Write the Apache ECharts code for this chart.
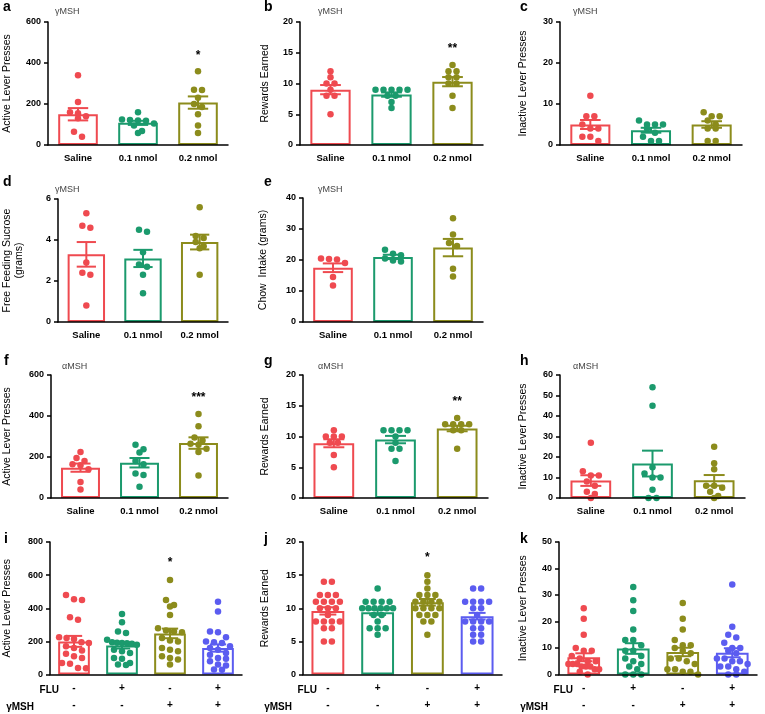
<!DOCTYPE html>
<html><head><meta charset="utf-8">
<script src="https://cdn.jsdelivr.net/npm/echarts@6/dist/echarts.min.js"></script>
<style>html,body{margin:0;padding:0;background:#fff}#c{width:765px;height:714px}</style>
</head><body><div id="c"></div>
<script>
// ---------------- DATA ----------------
const doseCats = ['Saline', '0.1 nmol', '0.2 nmol'];
const fluSigns = ['-', '+', '-', '+'];
const ymshSigns = ['-', '-', '+', '+'];

// a: γMSH active lever presses
const aDots = [[340,210,160,155,140,130,65,40],[160,125,122,120,118,105,95,68,58],[360,270,268,230,200,185,150,95,58]];
const aMean = [150,108,207];
const aSem = [30,10,30];
const aStars = ['','','*'];
// b: γMSH rewards earned
const bDots = [[12,11,10,10,9,8,8,5],[9,9,9,9,9,8,8,7,6],[13,12,12,11,11,10,10,8,6]];
const bMean = [9.0,8.2,10.3];
const bSem = [0.75,0.35,0.75];
const bStars = ['','','**'];
// c: γMSH inactive lever presses
const cDots = [[12,7,7,5,4,4,2,2,1],[6,5,5,5,4,3,2,1,1],[8,7,7,6,5,4,4,1,1]];
const cMean = [5.0,3.6,5.0];
const cSem = [1.1,0.6,0.8];
const cStars = ['','',''];
// d: γMSH free feeding sucrose
const dDots = [[5.3,4.7,4.6,2.9,2.4,2.3,0.8],[4.5,4.4,3.4,2.8,2.7,2.3,1.4],[5.6,4.2,4.1,3.9,3.7,3.6,2.3]];
const dMean = [3.3,3.1,3.9];
const dSem = [0.6,0.42,0.36];
const dStars = ['','',''];
// e: γMSH chow intake
const eDots = [[20.5,20.3,20.2,19.0,14.5,11.8],[23.3,22.0,21.5,20.5,19.8,19.5],[33.5,28.2,25.5,24.5,17.2,14.7]];
const eMean = [17.5,21.0,24.0];
const eSem = [1.4,0.7,2.8];
const eStars = ['','',''];
// f: αMSH active lever presses
const fDots = [[225,195,180,165,160,140,78,42],[260,238,222,180,165,120,112,55],[410,350,295,280,265,260,240,225,110]];
const fMean = [148,172,268];
const fSem = [20,23,28];
const fStars = ['','','***'];
// g: αMSH rewards earned
const gDots = [[11,10,10,10,9,9,7,5],[11,11,11,11,10,9,8,8,6],[13,12,12,12,12,11,11,8]];
const gMean = [8.9,9.5,11.3];
const gSem = [0.65,0.6,0.45];
const gStars = ['','','**'];
// h: αMSH inactive lever presses
const hDots = [[27,13,11,11,8,6,3,2,0],[54,45,15,12,10,10,4,0,0],[25,17,14,6,6,5,3,1,0]];
const hMean = [8.5,16.8,8.6];
const hSem = [2.6,6.3,2.6];
const hStars = ['','',''];
// i: FLU x γMSH active lever presses
const iDots = [
  [480,455,450,345,330,225,220,215,195,190,170,160,145,125,110,100,70,65,40,38],
  [365,315,260,250,210,195,192,190,188,185,180,150,140,130,100,95,70,60,58],
  [570,450,420,410,360,280,265,260,255,220,205,200,160,150,140,110,100,90,60],
  [440,380,260,255,225,200,195,190,170,160,150,130,120,100,95,80,60,55,30,28]];
const iMean = [200,175,248,160];
const iSem = [33,18,29,22];
const iStars = ['','','*',''];
// j: FLU x γMSH rewards earned
const jDots = [
  [14,14,12,12,12,11,11,11,11,10,10,10,9,8,8,8,8,7,7,5,5],
  [13,11,11,11,11,10,10,10,10,10,10,9,9,8,7,7,7,6],
  [15,14,13,12,12,12,11,11,11,11,10,10,10,10,9,9,9,8,8,6],
  [13,13,11,11,11,11,10,10,9,8,8,8,8,7,7,6,6,5,5]];
const jMean = [9.6,9.4,10.9,8.8];
const jSem = [0.55,0.4,0.5,0.5];
const jStars = ['','','*',''];
// k: FLU x γMSH inactive lever presses
const kDots = [
  [25,21,15,10,9,9,7,6,5,5,4,4,4,3,3,3,2,2,1,0],
  [33,28,24,17,13,13,11,9,9,7,6,5,4,3,2,0,0,0],
  [27,21,17,13,11,11,10,9,8,6,6,5,4,2,2,1,1,0],
  [34,18,15,14,12,10,10,9,8,6,6,5,5,4,3,3,2,1,0,0]];
const kMean = [6.5,9.8,8.5,8.2];
const kSem = [1.5,2.0,1.6,1.7];
const kStars = ['','','',''];

// ---------------- STYLE / LAYOUT ----------------
const colors = ['#ef4a50', '#1b9a6d', '#8c8c1c', '#5b5cf0'];
const FONT = '"Liberation Sans", Arial, sans-serif';
const fluCats = fluSigns.map((f, i) => f + '\n' + ymshSigns[i]);

const panels = [
  {id:'a', sub:'γMSH', yName:'Active Lever Presses', max:600, step:200, cats:doseCats, dots:aDots, mean:aMean, sem:aSem, stars:aStars},
  {id:'b', sub:'γMSH', yName:'Rewards Earned', max:20, step:5, cats:doseCats, dots:bDots, mean:bMean, sem:bSem, stars:bStars},
  {id:'c', sub:'γMSH', yName:'Inactive Lever Presses', max:30, step:10, cats:doseCats, dots:cDots, mean:cMean, sem:cSem, stars:cStars},
  {id:'d', sub:'γMSH', yName:'Free Feeding Sucrose\n(grams)', max:6, step:2, cats:doseCats, dots:dDots, mean:dMean, sem:dSem, stars:dStars},
  {id:'e', sub:'γMSH', yName:'Chow  Intake (grams)', max:40, step:10, cats:doseCats, dots:eDots, mean:eMean, sem:eSem, stars:eStars},
  {id:'f', sub:'αMSH', yName:'Active Lever Presses', max:600, step:200, cats:doseCats, dots:fDots, mean:fMean, sem:fSem, stars:fStars},
  {id:'g', sub:'αMSH', yName:'Rewards Earned', max:20, step:5, cats:doseCats, dots:gDots, mean:gMean, sem:gSem, stars:gStars},
  {id:'h', sub:'αMSH', yName:'Inactive Lever Presses', max:60, step:10, cats:doseCats, dots:hDots, mean:hMean, sem:hSem, stars:hStars},
  {id:'i', sub:null, yName:'Active Lever Presses', max:800, step:200, cats:fluCats, dots:iDots, mean:iMean, sem:iSem, stars:iStars, flu:true},
  {id:'j', sub:null, yName:'Rewards Earned', max:20, step:5, cats:fluCats, dots:jDots, mean:jMean, sem:jSem, stars:jStars, flu:true},
  {id:'k', sub:null, yName:'Inactive Lever Presses', max:50, step:10, cats:fluCats, dots:kDots, mean:kMean, sem:kSem, stars:kStars, flu:true}
];

const layout = {
  a:{grid:[45,22,183,123], letter:[3,0], sub:[55,12], gap:35},
  b:{grid:[300,22,183,123], letter:[264,0], sub:[318,12], gap:29},
  c:{grid:[560,22,182,123], letter:[520,0], sub:[573,12], gap:31},
  d:{grid:[47,199,181,123], letter:[3,175], sub:[55,190], gap:33},
  e:{grid:[303,198,180,124], letter:[264,175], sub:[318,190], gap:34},
  f:{grid:[47,375,181,123], letter:[4,354], sub:[62,367], gap:38},
  g:{grid:[303,375,185,123], letter:[264,354], sub:[318,367], gap:32},
  h:{grid:[560,375,185,123], letter:[520,354], sub:[573,367], gap:31},
  i:{grid:[45,542,197,134], letter:[4,532], gap:37},
  j:{grid:[303,542,199,134], letter:[264,532], gap:32},
  k:{grid:[559,542,198,134], letter:[520,532], gap:30}
};

const D = 6.5; // dot diameter

function dotRenderer(p) {
  return function (params, api) {
    const g = api.value(0), idx = api.value(2);
    const vals = p.dots[g];
    const cx = api.coord([g, 0])[0];
    const band = api.size([1, 0])[0];
    const ys = vals.map(v => api.coord([g, v])[1]);
    const order = ys.map((y, i) => i).sort((a, b) => (ys[a] - ys[b]) || (a - b));
    const rows = [];
    for (const i of order) {
      const last = rows[rows.length - 1];
      if (last && ys[i] - ys[last[0]] < D * 0.9) last.push(i);
      else rows.push([i]);
    }
    let off = 0;
    for (const row of rows) {
      const k = row.indexOf(idx);
      if (k >= 0) {
        const n = row.length;
        const sp = n > 1 ? Math.min(D + 1.5, band * 0.62 / (n - 1)) : 0;
        off = (k - (n - 1) / 2) * sp;
        break;
      }
    }
    return {type:'circle', shape:{cx: cx + off, cy: ys[idx], r: D / 2}, style:{fill: colors[g]}};
  };
}

function errRenderer(params, api) {
  const k = api.value(0), lo = api.value(1), hi = api.value(2);
  const x = api.coord([k, 0])[0];
  const yLo = api.coord([k, lo])[1], yHi = api.coord([k, hi])[1];
  const half = api.size([1, 0])[0] * 0.17;
  const c = colors[k];
  const st = {stroke: c, lineWidth: 2};
  return {type:'group', children:[
    {type:'line', shape:{x1:x, y1:yLo, x2:x, y2:yHi}, style:st},
    {type:'line', shape:{x1:x-half, y1:yHi, x2:x+half, y2:yHi}, style:st},
    {type:'line', shape:{x1:x-half, y1:yLo, x2:x+half, y2:yLo}, style:st}
  ]};
}

function starRenderer(p) {
  return function (params, api) {
    const k = api.value(0), v = api.value(1);
    const pt = api.coord([k, v]);
    return {type:'text', x: pt[0], y: pt[1], style:{text: p.stars[k],
      textAlign:'center', textVerticalAlign:'middle', align:'center', verticalAlign:'middle',
      font:'bold 12px ' + FONT, fill:'#000'}};
  };
}

const grid = [], xAxis = [], yAxis = [], series = [], graphic = [];
panels.forEach((p, pi) => {
  const L = layout[p.id];
  grid.push({left: L.grid[0], top: L.grid[1], width: L.grid[2], height: L.grid[3]});
  xAxis.push({
    type:'category', gridIndex: pi, data: p.cats, z: 10,
    axisLine:{lineStyle:{color:'#000', width:1.5}},
    axisTick:{alignWithLabel:true, length:4, lineStyle:{color:'#000', width:1.5}},
    axisLabel:{color:'#000', fontWeight:'bold', fontFamily: FONT,
      fontSize: p.flu ? 10 : 9.5, margin: p.flu ? 5.5 : 7, lineHeight: p.flu ? 17 : 12, interval: 0}
  });
  yAxis.push({
    type:'value', gridIndex: pi, min: 0, max: p.max, interval: p.step, z: 10,
    name: p.yName, nameLocation:'middle', nameGap: L.gap, nameRotate: 90,
    nameTextStyle:{color:'#000', fontSize:10.5, fontFamily: FONT, lineHeight: 12},
    axisLine:{show:true, lineStyle:{color:'#000', width:1.5}},
    axisTick:{show:true, length:4, lineStyle:{color:'#000', width:1.5}},
    splitLine:{show:false},
    axisLabel:{color:'#000', fontWeight:'bold', fontSize:9, fontFamily: FONT, margin:7}
  });
  series.push({
    type:'bar', xAxisIndex: pi, yAxisIndex: pi, barWidth:'66%', silent:true, z:1,
    data: p.mean.map((m, k) => ({value: m, itemStyle:{color:'rgba(255,255,255,0)', borderColor: colors[k], borderWidth: 2}}))
  });
  const dotData = [];
  p.dots.forEach((arr, g) => arr.forEach((v, i) => dotData.push([g, v, i])));
  series.push({
    type:'custom', xAxisIndex: pi, yAxisIndex: pi, z:3, silent:true,
    encode:{x:0, y:1}, renderItem: dotRenderer(p), data: dotData
  });
  series.push({
    type:'custom', xAxisIndex: pi, yAxisIndex: pi, z:4, silent:true,
    encode:{x:0, y:[1,2]}, renderItem: errRenderer,
    data: p.mean.map((m, k) => [k, m - p.sem[k], m + p.sem[k]])
  });
  const starData = [];
  p.stars.forEach((s, k) => { if (s) starData.push([k, Math.max(...p.dots[k]) + p.max * 0.13]); });
  if (starData.length) {
    series.push({
      type:'custom', xAxisIndex: pi, yAxisIndex: pi, z:5, silent:true,
      encode:{x:0, y:1}, renderItem: starRenderer(p), data: starData
    });
  }
  graphic.push({type:'text', left: L.letter[0], top: L.letter[1],
    style:{text: p.id, font:'bold 14px ' + FONT, fill:'#000'}});
  if (p.sub) {
    graphic.push({type:'text', x: L.sub[0], y: L.sub[1],
      style:{text: p.sub, font:'9px ' + FONT, fill:'#444', textVerticalAlign:'middle', verticalAlign:'middle'}});
  }
  if (p.flu) {
    const gx = L.grid[0], gy = L.grid[1] + L.grid[3];
    graphic.push({type:'text', x: gx + 14, y: gy + 14,
      style:{text:'FLU', font:'bold 10px ' + FONT, fill:'#000', textAlign:'right', align:'right', textVerticalAlign:'middle', verticalAlign:'middle'}});
    graphic.push({type:'text', x: gx - 11, y: gy + 31,
      style:{text:'γMSH', font:'bold 10px ' + FONT, fill:'#000', textAlign:'right', align:'right', textVerticalAlign:'middle', verticalAlign:'middle'}});
  }
});

const chart = echarts.init(document.getElementById('c'), null, {renderer:'canvas'});
chart.setOption({
  animation:false,
  backgroundColor:'#fff',
  textStyle:{fontFamily: FONT},
  grid, xAxis, yAxis, series, graphic
});
</script>
</body></html>
